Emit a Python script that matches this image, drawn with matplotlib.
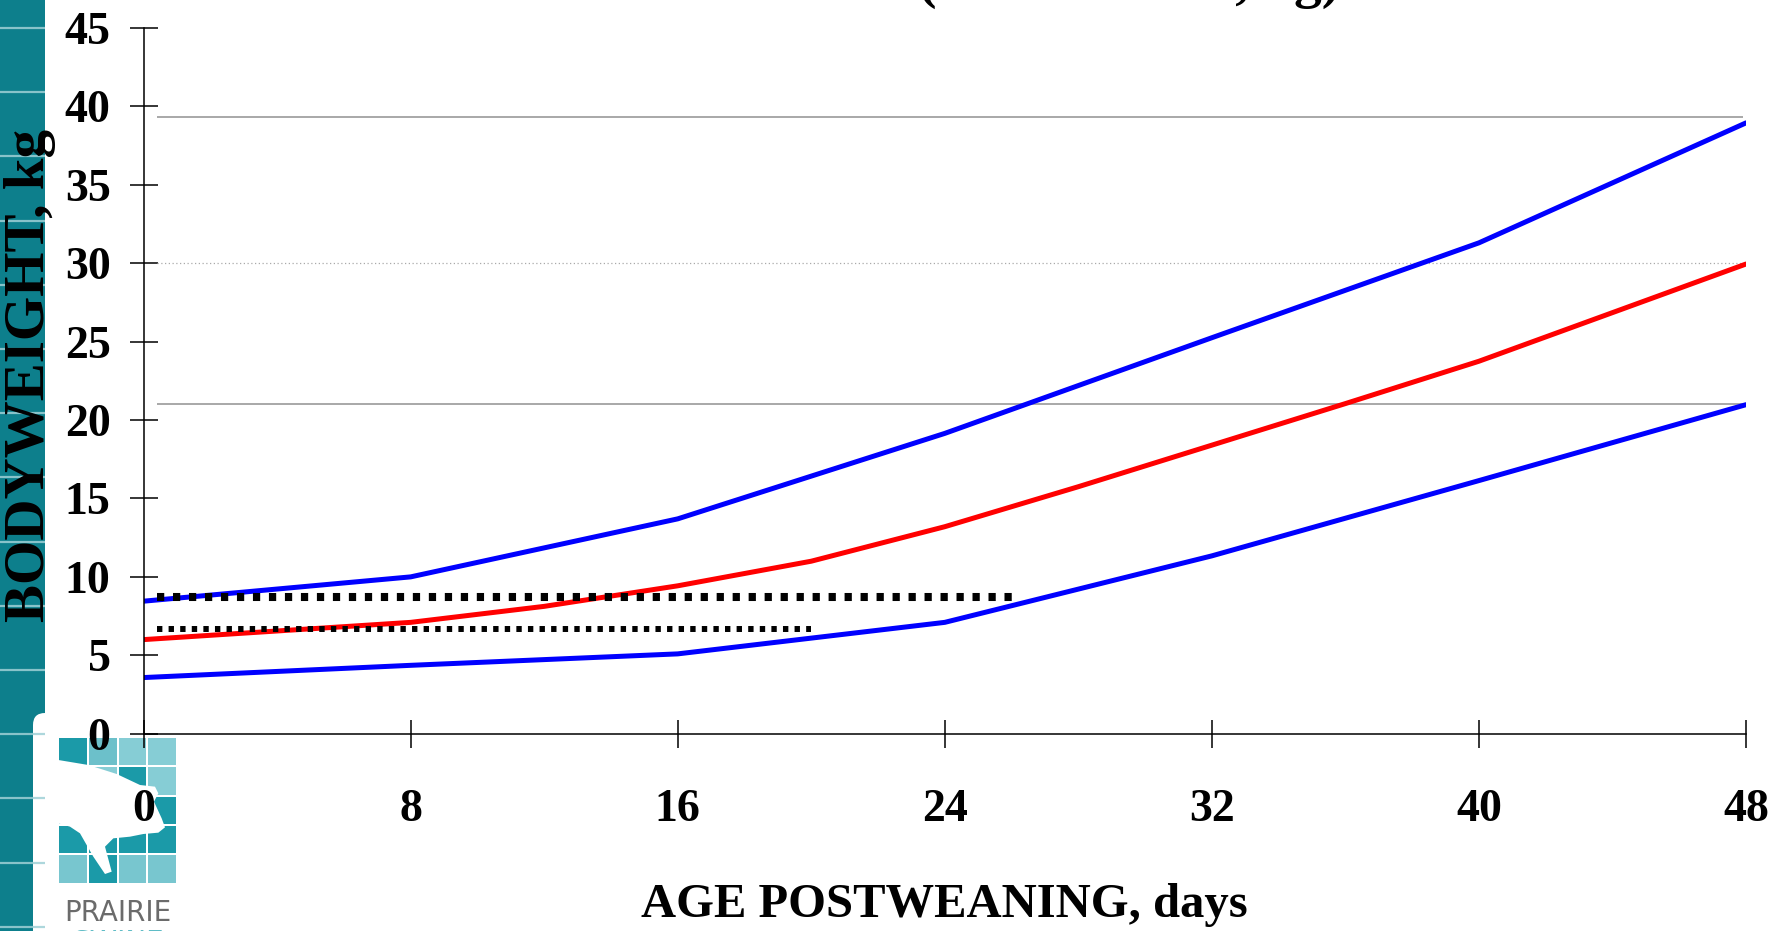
import numpy as np
import matplotlib
matplotlib.use('Agg')
import matplotlib.pyplot as plt
from matplotlib.patches import Rectangle, FancyBboxPatch, Polygon

# ── data ──
days = [0, 8, 16, 24, 32, 40, 48]
upper_bw = [8.45, 10.0, 13.7, 19.15, 25.25, 31.3, 38.95]
lower_bw = [3.58, 4.36, 5.09, 7.1, 11.34, 16.14, 20.98]
mean_days = [0, 8, 12, 16, 20, 24, 28, 32, 36, 40, 48]
mean_bw = [6.0, 7.1, 8.12, 9.43, 11.0, 13.2, 15.75, 18.4, 21.05, 23.75, 29.95]
ref_levels = [39.3, 21.0]          # solid grey guides
ref_dotted = 30.0                  # dotted grey guide
ref_span = (0.4, 47.9)
target_hi = (8.7, 0.4, 26.0)       # level, start, end
target_lo = (6.65, 0.4, 20.0)
xticks = [0, 8, 16, 24, 32, 40, 48]
yticks = list(range(0, 46, 5))
title = '(MEAN ± SD, kg)'          # only the bottom edge shows in the slide

W, H = 1787, 931
SERIF = 'Liberation Serif'
TEAL = '#0d7f8c'

fig = plt.figure(figsize=(W / 100, H / 100), dpi=100)

# background decoration in pixel coords
bg = fig.add_axes([0, 0, 1, 1], zorder=-1)
bg.set_xlim(0, W); bg.set_ylim(H, 0); bg.axis('off')
bg.add_patch(Rectangle((0, 0), 45, H, color=TEAL, lw=0))
for k in range(15):
    yy = 28 + 64.2 * k
    bg.plot([0, 45], [yy, yy], color='#9fd0d6', lw=1.6, alpha=0.85, solid_capstyle='butt')
bg.add_patch(FancyBboxPatch((45, 725), 220, 300, boxstyle='round,pad=12', fc='white', ec='none'))

# logo grid
cell_cols = [['#1b9aa8', '#6cc0ca', '#86cdd5', '#86cdd5'],
             ['#86cdd5', '#86cdd5', '#1b9aa8', '#86cdd5'],
             ['#86cdd5', '#86cdd5', '#86cdd5', '#1b9aa8'],
             ['#1b9aa8', '#1b9aa8', '#1b9aa8', '#1b9aa8'],
             ['#78c6cf', '#1b9aa8', '#78c6cf', '#78c6cf']]
for r in range(5):
    for c in range(4):
        bg.add_patch(Rectangle((58 + c * 29.8 + 1, 737 + r * 29.3 + 1), 27.8, 27.3,
                               color=cell_cols[r][c], lw=0))
pig = [(85, 210), (175, 225), (260, 252), (330, 285), (375, 290), (385, 310), (372, 335),
       (395, 385), (405, 412), (385, 428), (340, 432), (300, 440), (250, 445), (225, 470),
       (245, 545), (225, 552), (190, 500), (150, 430), (120, 410), (85, 400)]
bg.add_patch(Polygon([(30 + x / 3, 690 + y / 3) for x, y in pig], closed=True, fc='white', ec='none'))
bg.text(117.5, 913, 'PRAIRIE', color='#6b6b6b', fontsize=20, ha='center', va='center',
        family='DejaVu Sans')
bg.text(117.5, 943, 'SWINE', color='#5fbcc6', fontsize=20, ha='center', va='center',
        family='DejaVu Sans')

# title sits above the visible slide area; only descenders peek in
fig.text(918 / W, 1 + 3 / H, title, fontsize=40, fontweight='bold', family=SERIF,
         ha='left', va='baseline')

# ── main chart ──
x0, x1, y0, y1 = 143.6, 1746, 733.7, 28
ax = fig.add_axes([x0 / W, 1 - y0 / H, (x1 - x0) / W, (y0 - y1) / H], zorder=1)
ax.patch.set_alpha(0)

for lv in ref_levels:
    ax.hlines(lv, *ref_span, color='#999999', lw=1.2)
ax.hlines(ref_dotted, *ref_span, color='#aaaaaa', lw=0.9, linestyle=(0, (1, 2)))

ax.plot(days, upper_bw, color='#0000ff', lw=3.6, solid_capstyle='round', solid_joinstyle='round')
ax.plot(days, lower_bw, color='#0000ff', lw=3.6, solid_capstyle='round', solid_joinstyle='round')
ax.plot(mean_days, mean_bw, color='#ff0000', lw=3.6, solid_capstyle='round', solid_joinstyle='round')

lv, xa, xb = target_hi
ax.plot([xa, xb], [lv, lv], color='black', lw=5.8, linestyle=(0, (0.9, 1.085)), dash_capstyle='butt')
lv, xa, xb = target_lo
ax.plot([xa, xb], [lv, lv], color='black', lw=4.3, linestyle=(0, (0.9, 1.041)), dash_capstyle='butt')

ax.set_xlim(0, 48); ax.set_ylim(0, 45)
ax.set_xticks(xticks); ax.set_yticks(yticks)
for s in ['top', 'right']:
    ax.spines[s].set_visible(False)
for s in ['left', 'bottom']:
    ax.spines[s].set_linewidth(1.1)
ax.tick_params(direction='inout', length=19.5, width=1.1, labelsize=33)
ax.tick_params(axis='x', pad=30)
ax.tick_params(axis='y', pad=14)
for lab in ax.get_xticklabels() + ax.get_yticklabels():
    lab.set_fontfamily(SERIF); lab.set_fontweight('bold')

ax.set_xlabel('AGE POSTWEANING, days', fontsize=35, fontweight='bold', family=SERIF)
ax.xaxis.set_label_coords(0.5, (y0 - 883) / (y0 - y1))
ax.set_ylabel('BODYWEIGHT, kg', fontsize=41, fontweight='bold', family=SERIF)
ax.yaxis.set_label_coords((56 - x0) / (x1 - x0), (y0 - 376) / (y0 - y1))

fig.savefig('out.png', dpi=100)
